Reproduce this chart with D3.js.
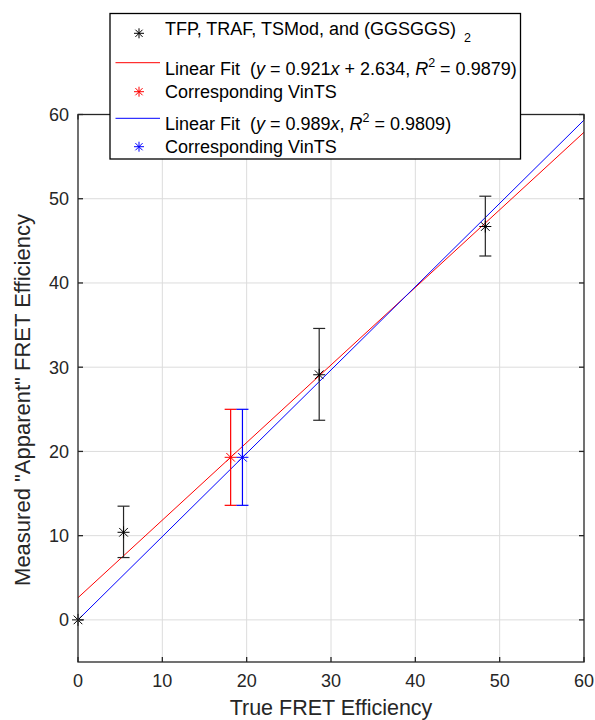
<!DOCTYPE html>
<html><head><meta charset="utf-8">
<script src="https://cdn.jsdelivr.net/npm/d3@7"></script>
<style>body{margin:0;background:#fff;} svg{display:block;font-family:"Liberation Sans",Arial,sans-serif;}</style>
</head><body>
<svg id="c" width="595" height="720"></svg>
<script>
// Data
const blackX = [0, 5.4, 28.6, 48.3];
const blackY = [0, 10.4, 29.1, 46.7];
const blackLo = [0, 7.4, 23.7, 43.2];
const blackHi = [0, 13.5, 34.6, 50.3];
const redPt = {x: 18.1, y: 19.3, lo: 13.6, hi: 25.0};
const bluePt = {x: 19.5, y: 19.3, lo: 13.6, hi: 25.0};
const redFit = {slope: 0.921, intercept: 2.634};
const blueFit = {slope: 0.989, intercept: 0};
const xTicks = [0, 10, 20, 30, 40, 50, 60];
const yTicks = [0, 10, 20, 30, 40, 50, 60];
const xDomain = [0, 60];
const yDomain = [-5, 60];

const svg = d3.select("#c");
const L = 78, R = 584, T = 114.5, B = 662;
const x = d3.scaleLinear().domain(xDomain).range([L, R]);
const y = d3.scaleLinear().domain(yDomain).range([B, T]);
const axisCol = "#262626";

// grid
const g = svg.append("g");
g.selectAll(".gx").data(xTicks.slice(1, -1)).join("line")
  .attr("x1", d => x(d)).attr("x2", d => x(d)).attr("y1", T).attr("y2", B)
  .attr("stroke", "#dcdcdc").attr("stroke-width", 1);
g.selectAll(".gy").data(yTicks.slice(0, -1)).join("line")
  .attr("y1", d => y(d)).attr("y2", d => y(d)).attr("x1", L).attr("x2", R)
  .attr("stroke", "#dcdcdc").attr("stroke-width", 1);

// fit lines
const lineGen = d3.line().x(d => x(d[0])).y(d => y(d[1]));
[[redFit, "#ff0000"], [blueFit, "#0000ff"]].forEach(([f, c]) => {
  const pts = xDomain.map(v => [v, f.slope * v + f.intercept]);
  svg.append("path").attr("d", lineGen(pts)).attr("stroke", c).attr("stroke-width", 1).attr("fill", "none");
});

// error bars & markers
function star(sel, cx, cy, color, r) {
  const gg = sel.append("g").attr("stroke", color).attr("stroke-width", 1);
  const d = r * 0.72;
  gg.append("line").attr("x1", cx - r).attr("x2", cx + r).attr("y1", cy).attr("y2", cy);
  gg.append("line").attr("x1", cx).attr("x2", cx).attr("y1", cy - r).attr("y2", cy + r);
  gg.append("line").attr("x1", cx - d).attr("x2", cx + d).attr("y1", cy - d).attr("y2", cy + d);
  gg.append("line").attr("x1", cx - d).attr("x2", cx + d).attr("y1", cy + d).attr("y2", cy - d);
}
function errbar(cx, lo, hi, color) {
  const gg = svg.append("g").attr("stroke", color).attr("stroke-width", 1.2);
  gg.append("line").attr("x1", x(cx)).attr("x2", x(cx)).attr("y1", y(lo)).attr("y2", y(hi));
  gg.append("line").attr("x1", x(cx) - 6).attr("x2", x(cx) + 6).attr("y1", y(lo)).attr("y2", y(lo));
  gg.append("line").attr("x1", x(cx) - 6).attr("x2", x(cx) + 6).attr("y1", y(hi)).attr("y2", y(hi));
}
blackX.forEach((v, i) => {
  if (blackHi[i] !== blackLo[i]) errbar(v, blackLo[i], blackHi[i], axisCol);
  star(svg, x(v), y(blackY[i]), "#000", 6);
});
errbar(redPt.x, redPt.lo, redPt.hi, "#ff0000");
star(svg, x(redPt.x), y(redPt.y), "#ff0000", 6);
errbar(bluePt.x, bluePt.lo, bluePt.hi, "#0000ff");
star(svg, x(bluePt.x), y(bluePt.y), "#0000ff", 6);

// axes box
const ax = svg.append("g").attr("stroke", axisCol).attr("stroke-width", 1.3);
ax.append("rect").attr("x", L).attr("y", T).attr("width", R - L).attr("height", B - T).attr("fill", "none");

// ticks (inward) on all sides
const tl = 5;
xTicks.forEach(t => {
  ax.append("line").attr("x1", x(t)).attr("x2", x(t)).attr("y1", B).attr("y2", B - tl);
  ax.append("line").attr("x1", x(t)).attr("x2", x(t)).attr("y1", T).attr("y2", T + tl);
});
yTicks.forEach(t => {
  ax.append("line").attr("y1", y(t)).attr("y2", y(t)).attr("x1", L).attr("x2", L + tl);
  ax.append("line").attr("y1", y(t)).attr("y2", y(t)).attr("x1", R).attr("x2", R - tl);
});

// tick labels
svg.selectAll(".xt").data(xTicks).join("text")
  .attr("x", d => x(d)).attr("y", 687).attr("text-anchor", "middle")
  .attr("font-size", 18).attr("fill", axisCol).text(d => d);
svg.selectAll(".yt").data(yTicks).join("text")
  .attr("x", 69).attr("y", d => y(d) + 6.5).attr("text-anchor", "end")
  .attr("font-size", 18).attr("fill", axisCol).text(d => d);

// axis labels
svg.append("text").attr("x", (L + R) / 2).attr("y", 715).attr("text-anchor", "middle")
  .attr("font-size", 21.5).attr("fill", axisCol).text("True FRET Efficiency");
svg.append("text").attr("transform", `translate(30,400) rotate(-90)`).attr("text-anchor", "middle")
  .attr("font-size", 22).attr("fill", axisCol).text('Measured "Apparent" FRET Efficiency');

// legend
const lg = svg.append("g");
lg.append("rect").attr("x", 110).attr("y", 13.5).attr("width", 410.5).attr("height", 145.5)
  .attr("fill", "#fff").attr("stroke", "#000").attr("stroke-width", 1.3);
const fs = 18;
const tx = 165;
star(lg, 139, 33.3, "#000", 5);
const t1 = lg.append("text").attr("x", tx).attr("y", 35).attr("font-size", fs).attr("fill", "#000");
t1.append("tspan").text("TFP, TRAF, TSMod, and (GGSGGS)");
t1.append("tspan").attr("font-size", 12.5).attr("dy", 7).attr("dx", 8).text("2");

function fitText(yy, parts) {
  const t = lg.append("text").attr("x", tx).attr("y", yy).attr("font-size", fs).attr("fill", "#000");
  parts.forEach(p => {
    const s = t.append("tspan").text(p.t);
    if (p.i) s.attr("font-style", "italic");
    if (p.sup) s.attr("font-size", 12.5).attr("dy", -8);
    if (p.down) s.attr("dy", 8);
  });
}
lg.append("line").attr("x1", 115.5).attr("x2", 160).attr("y1", 62.7).attr("y2", 62.7).attr("stroke", "#ff0000").attr("stroke-width", 1);
fitText(75, [{t: "Linear Fit\u00a0\u00a0("}, {t: "y", i: 1}, {t: " = 0.921"}, {t: "x", i: 1}, {t: " + 2.634, "}, {t: "R", i: 1}, {t: "2", sup: 1}, {t: " = 0.9879)", down: 1}]);
star(lg, 139, 91.7, "#ff0000", 5);
lg.append("text").attr("x", tx).attr("y", 97.7).attr("font-size", fs).attr("fill", "#000").text("Corresponding VinTS");
lg.append("line").attr("x1", 115.5).attr("x2", 160).attr("y1", 118.3).attr("y2", 118.3).attr("stroke", "#0000ff").attr("stroke-width", 1);
fitText(130, [{t: "Linear Fit\u00a0\u00a0("}, {t: "y", i: 1}, {t: " = 0.989"}, {t: "x", i: 1}, {t: ", "}, {t: "R", i: 1}, {t: "2", sup: 1}, {t: " = 0.9809)", down: 1}]);
star(lg, 139, 146.7, "#0000ff", 5);
lg.append("text").attr("x", tx).attr("y", 152.7).attr("font-size", fs).attr("fill", "#000").text("Corresponding VinTS");
</script>
</body></html>
